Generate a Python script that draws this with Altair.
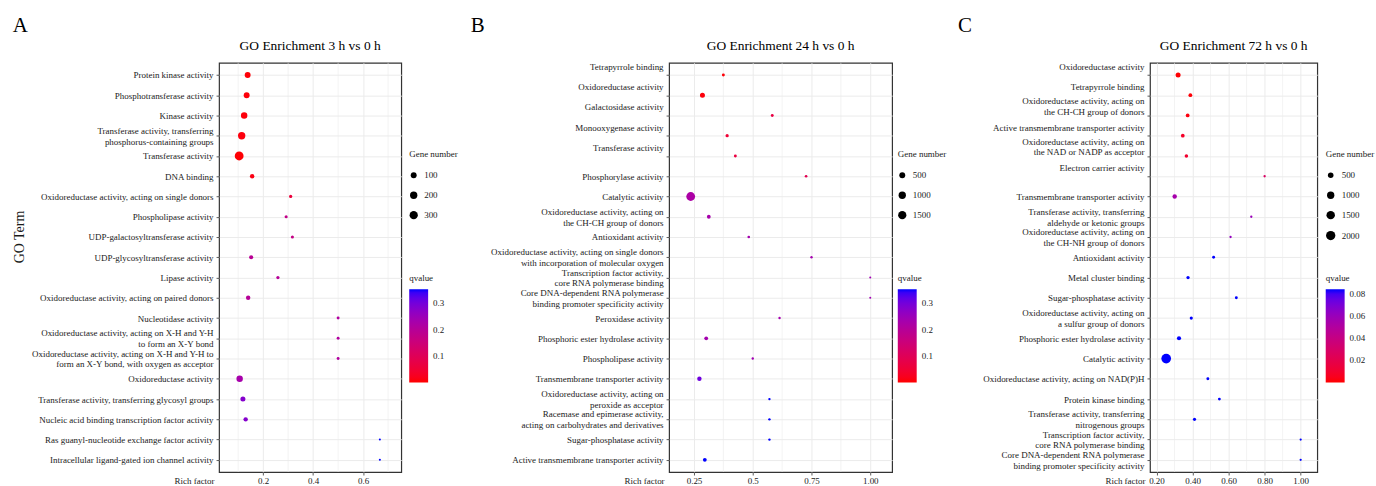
import altair as alt
import pandas as pd

FONT = "Liberation Serif"
PLOT_H = 411
PLOT_TOP = 61

# ---------------- Panel A ----------------
A_TITLE = "GO Enrichment 3 h vs 0 h"
A_TERMS = [
    "Protein kinase activity",
    "Phosphotransferase activity",
    "Kinase activity",
    "Transferase activity, transferring \nphosphorus-containing groups",
    "Transferase activity",
    "DNA binding",
    "Oxidoreductase activity, acting on single donors",
    "Phospholipase activity",
    "UDP-galactosyltransferase activity",
    "UDP-glycosyltransferase activity",
    "Lipase activity",
    "Oxidoreductase activity, acting on paired donors",
    "Nucleotidase activity",
    "Oxidoreductase activity, acting on X-H and Y-H \nto form an X-Y bond",
    "Oxidoreductase activity, acting on X-H and Y-H to\nform an X-Y bond, with oxygen as acceptor",
    "Oxidoreductase activity",
    "Transferase activity, transferring glycosyl groups",
    "Nucleic acid binding transcription factor activity",
    "Ras guanyl-nucleotide exchange factor activity",
    "Intracellular ligand-gated ion channel activity",
]
A_RICH = [0.138, 0.134, 0.124, 0.114, 0.104, 0.156, 0.310, 0.292, 0.317, 0.152,
          0.259, 0.140, 0.5, 0.5, 0.5, 0.106, 0.119, 0.130, 0.667, 0.667]
A_GENES = [100, 100, 131, 200, 380, 43, 21, 19, 19, 36,
           21, 43, 17, 17, 17, 131, 62, 43, 10, 10]
A_QVALUE = [0.004, 0.005, 0.006, 0.008, 0.003, 0.012, 0.06, 0.176, 0.17, 0.195,
            0.2, 0.2, 0.21, 0.21, 0.21, 0.23, 0.28, 0.28, 0.353, 0.353]
A_XTICKS = [0.2, 0.4, 0.6]
A_XLABELS = ["0.2", "0.4", "0.6"]
A_XMINOR = [0.1, 0.3, 0.5, 0.7]
A_SIZE_BREAKS = [100, 200, 300]
A_Q_BREAKS = [0.1, 0.2, 0.3]

# ---------------- Panel B ----------------
B_TITLE = "GO Enrichment 24 h vs 0 h"
B_TERMS = [
    "Tetrapyrrole binding\n",
    "Oxidoreductase activity\n",
    "Galactosidase activity\n",
    "Monooxygenase activity\n",
    "Transferase activity\n",
    "Phosphorylase activity",
    "Catalytic activity",
    "Oxidoreductase activity, acting on \nthe CH-CH group of donors",
    "Antioxidant activity",
    "Oxidoreductase activity, acting on single donors \nwith incorporation of molecular oxygen",
    "Transcription factor activity,\ncore RNA polymerase binding",
    "Core DNA-dependent RNA polymerase \nbinding promoter specificity activity",
    "Peroxidase activity",
    "Phosphoric ester hydrolase activity",
    "Phospholipase activity",
    "Transmembrane transporter activity",
    "Oxidoreductase activity, acting on \nperoxide as acceptor",
    "Racemase and epimerase activity,\nacting on carbohydrates and derivatives",
    "Sugar-phosphatase activity",
    "Active transmembrane transporter activity",
]
B_RICH = [0.375, 0.286, 0.583, 0.391, 0.426, 0.727, 0.236, 0.313, 0.483, 0.75,
          1.0, 1.0, 0.614, 0.302, 0.5, 0.273, 0.571, 0.571, 0.571, 0.296]
B_GENES = [85, 308, 85, 105, 85, 72, 1900, 147, 72, 61,
           50, 50, 61, 147, 61, 214, 61, 61, 61, 147]
B_QVALUE = [0.004, 0.006, 0.07, 0.05, 0.065, 0.09, 0.22, 0.23, 0.235, 0.235,
            0.24, 0.24, 0.235, 0.235, 0.24, 0.305, 0.353, 0.353, 0.353, 0.353]
B_XTICKS = [0.25, 0.5, 0.75, 1.0]
B_XLABELS = ["0.25", "0.5", "0.75", "1.00"]
B_XMINOR = [0.375, 0.625, 0.875]
B_SIZE_BREAKS = [500, 1000, 1500]
B_Q_BREAKS = [0.1, 0.2, 0.3]

# ---------------- Panel C ----------------
C_TITLE = "GO Enrichment 72 h vs 0 h"
C_TERMS = [
    "Oxidoreductase activity\n",
    "Tetrapyrrole binding\n",
    "Oxidoreductase activity, acting on\nthe CH-CH group of donors\n",
    "Active transmembrane transporter activity\n",
    "Oxidoreductase activity, acting on\nthe NAD or NADP as acceptor\n",
    "Electron carrier activity\n",
    "Transmembrane transporter activity",
    "Transferase activity, transferring\naldehyde or ketonic groups",
    "Oxidoreductase activity, acting on\nthe CH-NH group of donors",
    "Antioxidant activity",
    "Metal cluster binding",
    "Sugar-phosphatase activity",
    "Oxidoreductase activity, acting on\na sulfur group of donors",
    "Phosphoric ester hydrolase activity",
    "Catalytic activity",
    "Oxidoreductase activity, acting on NAD(P)H",
    "Protein kinase binding",
    "Transferase activity, transferring\nnitrogenous groups",
    "Transcription factor activity, \ncore RNA polymerase binding",
    "Core DNA-dependent RNA polymerase \nbinding promoter specificity activity",
]
C_RICH = [0.320, 0.388, 0.373, 0.346, 0.366, 0.80, 0.301, 0.726, 0.611, 0.517,
          0.375, 0.643, 0.393, 0.325, 0.254, 0.485, 0.549, 0.411, 1.0, 1.0]
C_GENES = [400, 245, 245, 240, 220, 145, 314, 145, 145, 175,
           200, 175, 195, 280, 2300, 175, 170, 190, 140, 140]
C_QVALUE = [0.0005, 0.001, 0.002, 0.008, 0.01, 0.028, 0.055, 0.06, 0.062, 0.0843,
            0.0843, 0.0843, 0.0843, 0.0843, 0.0843, 0.0843, 0.0843, 0.0843, 0.0843, 0.0843]
C_XTICKS = [0.2, 0.4, 0.6, 0.8, 1.0]
C_XLABELS = ["0.20", "0.40", "0.60", "0.80", "1.00"]
C_XMINOR = [0.3, 0.5, 0.7, 0.9]
C_SIZE_BREAKS = [500, 1000, 1500, 2000]
C_Q_BREAKS = [0.02, 0.04, 0.06, 0.08]

PANEL_LETTERS = ["A", "B", "C"]

GRID = "#ebebeb"
DARK = "#333333"
TEXT = "#1a1a1a"
LINE_H = 10.7

NLINES = "length(split(datum.value, '\\n'))"
TRAILING = "peek(split(datum.value, '\\n')) == ''"
LABEL_OFFSET = {
    "condition": [
        {"test": f"{NLINES} == 3", "value": -15},
        {"test": TRAILING, "value": -8.5},
        {"test": f"{NLINES} == 2", "value": -LINE_H / 2},
    ],
    "value": 0,
}


def label_expr(ticks, labels):
    expr = "''"
    for t, l in reversed(list(zip(ticks, labels))):
        expr = f"datum.value == {t} ? '{l}' : ({expr})"
    return expr


def panel(terms, rich, genes, qval, ticks, tick_labels, minor, size_breaks, q_breaks,
          title, letter, width, xdom, size_dom, size_range, qmax,
          letter_x, legend_x, anchor_l, anchor_r, ytitle):
    df = pd.DataFrame({"term": terms, "rich": rich, "genes": genes, "q": qval})
    xscale = alt.Scale(domain=xdom, nice=False, zero=False)

    xaxis = alt.Axis(
        values=ticks, labelExpr=label_expr(ticks, tick_labels),
        labelFont=FONT, labelFontSize=9, labelColor=TEXT, labelFlush=False,
        labelPadding=1.5, tickSize=3, tickColor=DARK, tickWidth=0.8, domain=False,
        grid=True, gridColor=GRID, gridWidth=1,
        title="Rich factor", titleX=-5, titleY=4.5, titleAlign="right",
        titleBaseline="top", titleFont=FONT, titleFontSize=9,
        titleFontWeight="normal", titleColor=TEXT)

    yaxis_kw = dict(
        labelExpr="split(datum.label, '\\n')",
        labelFont=FONT, labelFontSize=9, labelColor=TEXT, labelLimit=400,
        labelLineHeight=LINE_H, labelPadding=3,
        labelOffset=LABEL_OFFSET,
        tickSize=3, tickColor=DARK, tickWidth=0.8, domain=False,
        grid=True, gridColor=GRID, gridWidth=1,
    )
    if ytitle:
        yaxis_kw.update(title=ytitle, titleX=-200, titleY=174.5, titleAngle=270,
                        titleFont=FONT, titleFontSize=14, titleFontWeight="normal",
                        titleColor=TEXT, titleAlign="center", titleBaseline="middle")
    else:
        yaxis_kw.update(title=None)

    minor_layer = alt.Chart(pd.DataFrame({"v": minor})).mark_rule(
        color=GRID, strokeWidth=0.6
    ).encode(x=alt.X("v:Q", scale=xscale, axis=xaxis))

    points = alt.Chart(df).mark_circle(opacity=1).encode(
        x=alt.X("rich:Q", scale=xscale, axis=xaxis),
        y=alt.Y("term:N", sort=terms, scale=alt.Scale(padding=0.6), axis=alt.Axis(**yaxis_kw)),
        size=alt.Size("genes:Q", scale=alt.Scale(type="sqrt", domain=size_dom, range=size_range,
                                                 zero=False, nice=False),
                      legend=alt.Legend(
                          title="Gene number", orient="none", legendX=legend_x, legendY=87.5,
                          direction="vertical", values=size_breaks, padding=0, format="d",
                          titleFont=FONT, titleFontSize=9, titleFontWeight="normal",
                          titleColor=TEXT, titlePadding=12,
                          labelFont=FONT, labelFontSize=9, labelColor=TEXT, labelOffset=6,
                          symbolType="circle", symbolFillColor="black",
                          symbolStrokeWidth=0, symbolOpacity=1, rowPadding=10)),
        color=alt.Color("q:Q", scale=alt.Scale(domain=[0, qmax], range=["#ff0000", "#0000ff"],
                                               interpolate="lab", nice=False, zero=False),
                        legend=alt.Legend(
                            title="qvalue", orient="none", legendX=legend_x, legendY=212.5,
                            direction="vertical", values=q_breaks, padding=0,
                            gradientLength=93.5, gradientThickness=19, gradientStrokeWidth=0,
                            titleFont=FONT, titleFontSize=9, titleFontWeight="normal",
                            titleColor=TEXT, titlePadding=6,
                            labelFont=FONT, labelFontSize=9, labelColor=TEXT, labelOffset=5)),
    )

    title_layer = alt.Chart(pd.DataFrame({"t": [title]})).mark_text(
        font=FONT, fontSize=13.5, color="black", align="center", baseline="alphabetic"
    ).encode(text="t:N", x=alt.value(width / 2), y=alt.value(-12.7))

    letter_layer = alt.Chart(pd.DataFrame({"t": [letter]})).mark_text(
        font=FONT, fontSize=21, color="black", align="left", baseline="alphabetic"
    ).encode(text="t:N", x=alt.value(letter_x), y=alt.value(-31))

    anchor = alt.Chart(pd.DataFrame({"a": [0]})).mark_rule(opacity=0).encode(
        x=alt.value(anchor_l), x2=alt.value(anchor_r),
        y=alt.value(-PLOT_TOP), y2=alt.value(-PLOT_TOP))

    return alt.layer(minor_layer, points, title_layer, letter_layer, anchor).properties(
        width=width, height=PLOT_H)


pa = panel(A_TERMS, A_RICH, A_GENES, A_QVALUE, A_XTICKS, A_XLABELS, A_XMINOR,
           A_SIZE_BREAKS, A_Q_BREAKS, A_TITLE, PANEL_LETTERS[0], 183, [0.0235, 0.7526],
           [8, 400], [2.67, 80.8], 0.353, -207.3, 191, -219, 246, "GO Term")
pb = panel(B_TERMS, B_RICH, B_GENES, B_QVALUE, B_XTICKS, B_XLABELS, B_XMINOR,
           B_SIZE_BREAKS, B_Q_BREAKS, B_TITLE, PANEL_LETTERS[1], 224, [0.144, 1.093],
           [40, 2000], [2.67, 80.8], 0.353, -199.3, 229.7, -204.3, 285.7, None)
pc = panel(C_TERMS, C_RICH, C_GENES, C_QVALUE, C_XTICKS, C_XLABELS, C_XMINOR,
           C_SIZE_BREAKS, C_Q_BREAKS, C_TITLE, PANEL_LETTERS[2], 168, [0.164, 1.092],
           [120, 2500], [2.77, 100], 0.0843, -192.7, 176.5, -195, 226, None)

chart = alt.hconcat(pa, pb, pc, spacing=0, bounds="full").resolve_scale(
    x="independent", y="independent", color="independent", size="independent"
).properties(padding=0, background="white").configure_view(
    stroke=DARK, strokeWidth=1.2
)

chart.save("out.html", embed_options={"renderer": "svg", "actions": False})
